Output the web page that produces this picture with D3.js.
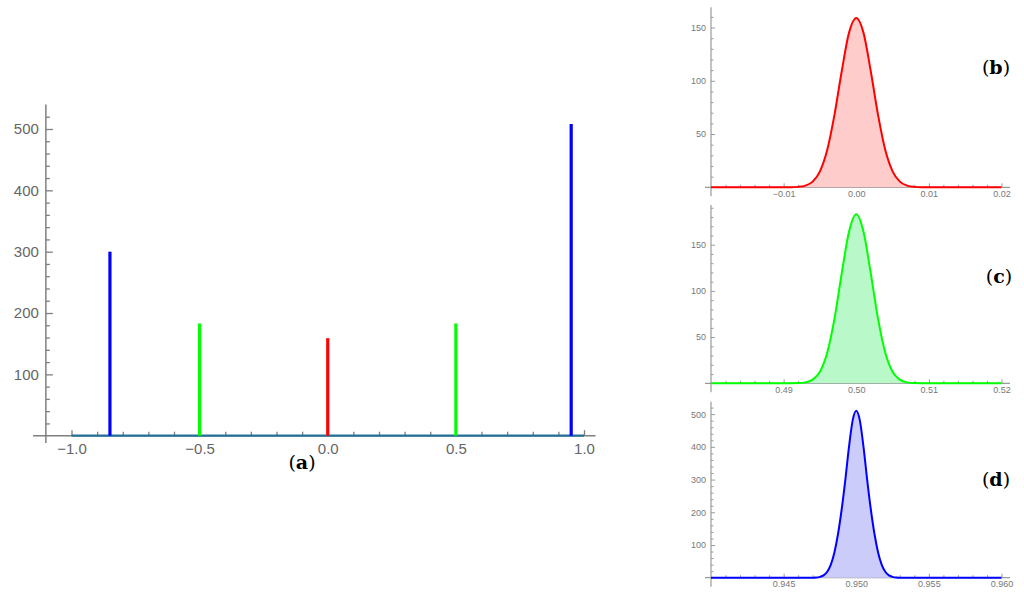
<!DOCTYPE html>
<html>
<head>
<meta charset="utf-8">
<script src="https://cdn.jsdelivr.net/npm/d3@7"></script>
<style>
  html, body { margin: 0; padding: 0; background: #fff; }
  svg { display: block; }
</style>
</head>
<body>
<div id="chart"></div>
<script>
// データ ------------------------------------------------------------------------------
// (a) 全体図のピーク
const spikeX = [-0.85, -0.5, 0, 0.5, 0.95];
const spikeH = [300, 183, 159, 183, 508];
const spikeColor = ['#0000ff', '#00ff00', '#ff0000', '#00ff00', '#0000ff'];
const baseRange = [-1, 1];
const mainXTicks = [-1, -0.5, 0, 0.5, 1];
const mainYTicks = [100, 200, 300, 400, 500];

// (b) x = 0 付近
const bX = [-0.02, -0.009, -0.008, -0.007, -0.006, -0.005, -0.004, -0.003, -0.002, -0.001, 0,
            0.001, 0.002, 0.003, 0.004, 0.005, 0.006, 0.007, 0.008, 0.009, 0.02];
const bY = [0, 0.08, 0.4, 1.6, 5.3, 15, 35, 68, 109, 145, 159,
            145, 109, 68, 35, 15, 5.3, 1.6, 0.4, 0.08, 0];
const bXTicks = [-0.01, 0, 0.01, 0.02];
const bYTicks = [50, 100, 150];

// (c) x = 0.5 付近
const cX = [0.48, 0.491, 0.492, 0.493, 0.494, 0.495, 0.496, 0.497, 0.498, 0.499, 0.5,
            0.501, 0.502, 0.503, 0.504, 0.505, 0.506, 0.507, 0.508, 0.509, 0.52];
const cY = [0, 0.05, 0.2, 1, 4, 12.5, 33, 70, 119, 164, 183,
            164, 119, 70, 33, 12.5, 4, 1, 0.2, 0.05, 0];
const cXTicks = [0.49, 0.5, 0.51, 0.52];
const cYTicks = [50, 100, 150];

// (d) x = 0.95 付近
const dX = [0.94, 0.947, 0.94725, 0.9475, 0.94775, 0.948, 0.94825, 0.9485, 0.94875, 0.949, 0.94925, 0.9495, 0.94975, 0.95,
            0.95025, 0.9505, 0.95075, 0.951, 0.95125, 0.9515, 0.95175, 0.952, 0.95225, 0.9525, 0.95275, 0.953, 0.96];
const dY = [0, 0, 0.5, 2.5, 7, 18, 40, 78, 135, 210, 300, 400, 480, 510,
            480, 400, 300, 210, 135, 78, 40, 18, 7, 2.5, 0.5, 0, 0];
const dXTicks = [0.945, 0.95, 0.955, 0.96];
const dYTicks = [100, 200, 300, 400, 500];

// SVG領域 ------------------------------------------------------------------------------
const width = 1024, height = 598;
const svg = d3.select('#chart').append('svg')
  .attr('width', width)
  .attr('height', height);

const tickFont = '"Liberation Sans", Arial, sans-serif';
const labelFont = '"DejaVu Serif", "Liberation Serif", serif';

// (a) メインチャート -------------------------------------------------------------------
const xMain = d3.scaleLinear().domain([-1, 1]).range([71.5, 584]);
const yMain = d3.scaleLinear().domain([0, 500]).range([435.7, 129]);
const axisX = -1.1;
const mainAxisColor = '#7f7f7f';

const gMain = svg.append('g');

// 目盛り(小)
const mainXMinor = d3.range(-1, 1.0001, 0.1).filter(v => !mainXTicks.some(t => Math.abs(t - v) < 1e-6));
const mainYMinor = d3.range(20, 521, 20).filter(v => v % 100 !== 0);

gMain.append('g')
  .attr('transform', `translate(0,${yMain(0)})`)
  .call(d3.axisBottom(xMain).tickValues(mainXMinor).tickSize(-4).tickFormat(''))
  .call(g => g.select('.domain').remove());
const gx = gMain.append('g')
  .attr('transform', `translate(0,${yMain(0)})`)
  .call(d3.axisBottom(xMain).tickValues(mainXTicks).tickSize(-5.5).tickPadding(8).tickFormat(d3.format('.1f')))
  .call(g => g.select('.domain').remove());
gx.selectAll('text').attr('font-family', tickFont).attr('font-size', 15).attr('fill', '#666');

gMain.append('g')
  .attr('transform', `translate(${xMain(axisX)},0)`)
  .call(d3.axisLeft(yMain).tickValues(mainYMinor).tickSize(-4).tickFormat(''))
  .call(g => g.select('.domain').remove());
const gy = gMain.append('g')
  .attr('transform', `translate(${xMain(axisX)},0)`)
  .call(d3.axisLeft(yMain).tickValues(mainYTicks).tickSize(-7).tickPadding(7))
  .call(g => g.select('.domain').remove());
gy.selectAll('text').attr('font-family', tickFont).attr('font-size', 15).attr('fill', '#666');

gMain.selectAll('.tick line').attr('stroke', mainAxisColor).attr('stroke-width', 1.3);

// 軸線
gMain.append('line')
  .attr('x1', xMain(-1.15)).attr('x2', xMain(1.045))
  .attr('y1', yMain(0)).attr('y2', yMain(0))
  .attr('stroke', mainAxisColor).attr('stroke-width', 1.5);
gMain.append('line')
  .attr('x1', xMain(axisX)).attr('x2', xMain(axisX))
  .attr('y1', yMain(540)).attr('y2', yMain(-12))
  .attr('stroke', mainAxisColor).attr('stroke-width', 1.5);

// ゼロ付近の曲線(重なり)
gMain.append('line')
  .attr('x1', xMain(baseRange[0])).attr('x2', xMain(baseRange[1]))
  .attr('y1', yMain(0)).attr('y2', yMain(0))
  .attr('stroke', '#24709a').attr('stroke-width', 2.2);

// ピーク
gMain.append('g')
  .selectAll('line')
  .data(spikeX)
  .enter()
  .append('line')
  .attr('x1', d => xMain(d)).attr('x2', d => xMain(d))
  .attr('y1', yMain(0))
  .attr('y2', (d, i) => yMain(spikeH[i]))
  .attr('stroke', (d, i) => spikeColor[i])
  .attr('stroke-width', 3.2);

// パネル名
const panelLabel = (x, y, letter) => {
  const t = svg.append('text')
    .attr('x', x).attr('y', y)
    .attr('text-anchor', 'middle')
    .attr('font-family', labelFont)
    .attr('font-size', 19)
    .attr('fill', '#000');
  t.append('tspan').text('(');
  t.append('tspan').attr('font-weight', 'bold').text(letter);
  t.append('tspan').text(')');
};
panelLabel(302, 469, 'a');

// 右側の拡大図 --------------------------------------------------------------------------
const panelCreate = (xs, ys, opt) => {
  const x = d3.scaleLinear().domain(opt.xDomain).range([711, 1001.5]);
  const y = d3.scaleLinear().domain([0, opt.yTop]).range([opt.bottom, opt.top]);
  const g = svg.append('g');
  const axisColor = '#9a9a9a';
  const x0 = opt.xDomain[0];

  // 目盛り
  const xMinor = d3.range(x0 + opt.xStep, opt.xDomain[1] + opt.xStep / 2, opt.xStep)
    .filter(v => !opt.xTicks.some(t => Math.abs(t - v) < opt.xStep / 10));
  const yMinor = d3.range(opt.yStep, opt.yTop, opt.yStep)
    .filter(v => !opt.yTicks.some(t => Math.abs(t - v) < opt.yStep / 10));

  g.append('g')
    .attr('transform', `translate(0,${y(0)})`)
    .call(d3.axisBottom(x).tickValues(xMinor).tickSize(-2.5).tickFormat(''))
    .call(s => s.select('.domain').remove());
  const ax = g.append('g')
    .attr('transform', `translate(0,${y(0)})`)
    .call(d3.axisBottom(x).tickValues(opt.xTicks).tickSize(-4).tickPadding(3).tickFormat(d3.format(opt.fmt)))
    .call(s => s.select('.domain').remove());
  ax.selectAll('text').attr('font-family', tickFont).attr('font-size', 9).attr('fill', '#777');

  g.append('g')
    .attr('transform', `translate(${x(x0)},0)`)
    .call(d3.axisLeft(y).tickValues(yMinor).tickSize(-2.5).tickFormat(''))
    .call(s => s.select('.domain').remove());
  const ay = g.append('g')
    .attr('transform', `translate(${x(x0)},0)`)
    .call(d3.axisLeft(y).tickValues(opt.yTicks).tickSize(-4).tickPadding(5))
    .call(s => s.select('.domain').remove());
  ay.selectAll('text').attr('font-family', tickFont).attr('font-size', 9).attr('fill', '#777');
  g.selectAll('.tick line').attr('stroke', axisColor).attr('stroke-width', 1);

  // 軸線
  g.append('line')
    .attr('x1', x(x0) - 6).attr('x2', 1010)
    .attr('y1', y(0)).attr('y2', y(0))
    .attr('stroke', axisColor).attr('stroke-width', 1.2);
  g.append('line')
    .attr('x1', x(x0)).attr('x2', x(x0))
    .attr('y1', opt.top).attr('y2', y(0) + 9)
    .attr('stroke', axisColor).attr('stroke-width', 1.2);

  // 面と線
  const pts = xs.map((v, i) => [v, ys[i]]);
  g.append('path')
    .datum(pts)
    .attr('d', d3.area().x(d => x(d[0])).y0(y(0)).y1(d => y(d[1])).curve(d3.curveMonotoneX))
    .attr('fill', opt.fill);
  g.append('path')
    .datum(pts)
    .attr('d', d3.line().x(d => x(d[0])).y(d => y(d[1])).curve(d3.curveMonotoneX))
    .attr('fill', 'none')
    .attr('stroke', opt.color)
    .attr('stroke-width', 2);

  panelLabel(opt.labelX, opt.labelY, opt.letter);
};

panelCreate(bX, bY, {
  xDomain: [-0.02, 0.02], xTicks: bXTicks, xStep: 0.002, fmt: '.2f',
  yTop: 169, yTicks: bYTicks, yStep: 10, top: 7.3, bottom: 187.3,
  color: '#ff0000', fill: '#ffcccc', letter: 'b', labelX: 996, labelY: 74
});
panelCreate(cX, cY, {
  xDomain: [0.48, 0.52], xTicks: cXTicks, xStep: 0.002, fmt: '.2f',
  yTop: 193, yTicks: cYTicks, yStep: 10, top: 205, bottom: 383.3,
  color: '#00ff00', fill: '#b9f8c9', letter: 'c', labelX: 999, labelY: 283
});
panelCreate(dX, dY, {
  xDomain: [0.94, 0.96], xTicks: dXTicks, xStep: 0.001, fmt: '.3f',
  yTop: 538, yTicks: dYTicks, yStep: 20, top: 401.7, bottom: 577.7,
  color: '#0000ff', fill: '#ccccfa', letter: 'd', labelX: 996, labelY: 486
});
</script>
</body>
</html>
